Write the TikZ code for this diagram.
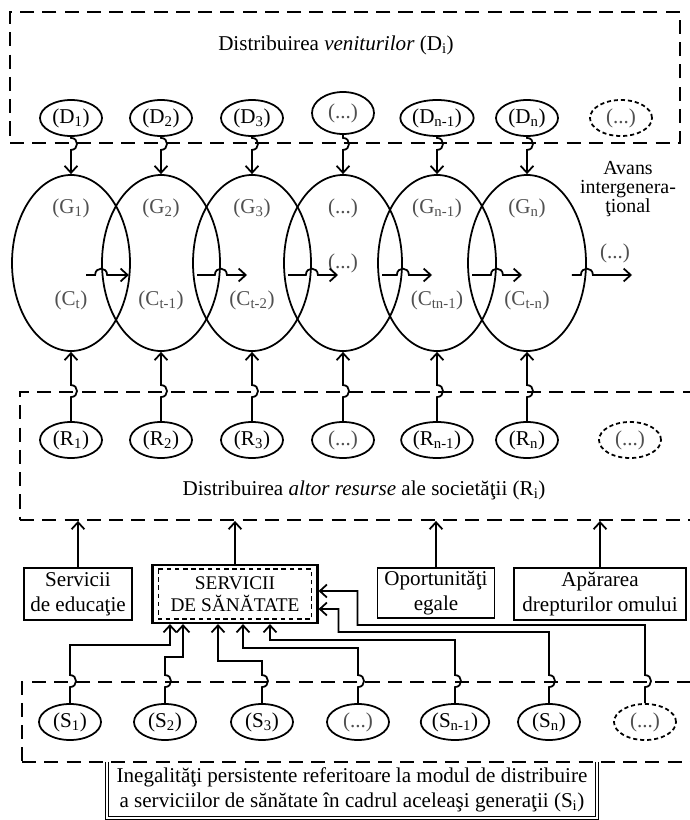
\documentclass[tikz,border=0pt]{standalone}
\usepackage{fontspec}
\setmainfont{Liberation Serif}
\usepackage{tikz}
\usetikzlibrary{positioning, arrows.meta, shapes.geometric, calc, fit}
\usepackage{xcolor}
\definecolor{labelgray}{RGB}{80, 80, 80}

\begin{document}
\begin{tikzpicture}[x=0.03cm, y=-0.03cm,
    txt/.style={font=\fontsize{18}{21}\selectfont, align=center},
    dbox/.style={draw, line width=1.6pt, dash pattern=on 12pt off 7pt, inner sep=0pt},
    cell/.style={ellipse, draw, line width=1.5pt, minimum width=1.86cm, minimum height=1.08cm, inner sep=1pt, txt},
    celldash/.style={cell, dash pattern=on 3.5pt off 2.5pt},
    gen/.style={ellipse, draw, line width=1.5pt, minimum width=3.54cm, minimum height=5.28cm},
    lbl/.style={txt, text=labelgray},
    box/.style={draw, line width=1.5pt, txt, inner sep=2pt},
    conn/.style={line width=1.5pt, -{Straight Barb[length=6pt, width=11pt]}}
]
    \useasboundingbox (0,0) rectangle (689,820);

    % Dashed frames
    \node[dbox, fit={(10,12) (680,143)}] (dframe) {};
    \node[dbox, fit={(20,392) (695,520)}] (rframe) {};
    \node[dbox, fit={(22,682) (695,762)}] (sframe) {};

    % Income distribution
    \node[txt] (dtitle) at (336,45) {Distribuirea \textit{veniturilor} (D\textsubscript{i})};
    \foreach \i/\x/\t in {1/71/{(D\textsubscript{1})}, 2/161/{(D\textsubscript{2})}, 3/252/{(D\textsubscript{3})}, 5/437/{(D\textsubscript{n-1})}, 6/527/{(D\textsubscript{n})}}
        \node[cell] (d\i) at (\x,118) {\t};
    \node[cell, minimum height=1.26cm, text=labelgray] (d4) at (343,113) {(...)};
    \node[celldash, text=labelgray] (d7) at (621,118) {(...)};

    % Generations
    \foreach \i/\x in {1/71, 2/161, 3/252, 4/343, 5/437, 6/527}
        \node[gen] (g\i) at (\x,263) {};
    \foreach \i/\g/\c/\dy in {1/{(G\textsubscript{1})}/{(C\textsubscript{t})}/37, 2/{(G\textsubscript{2})}/{(C\textsubscript{t-1})}/37, 3/{(G\textsubscript{3})}/{(C\textsubscript{t-2})}/37, 4/{(...)}/{(...)}/0, 5/{(G\textsubscript{n-1})}/{(C\textsubscript{tn-1})}/37, 6/{(G\textsubscript{n})}/{(C\textsubscript{t-n})}/37} {
        \node[lbl] (gl\i) at ($(g\i)+(0,-55)$) {\g};
        \node[lbl] (cl\i) at ($(g\i)+(0,\dy)$) {\c};
    }
    \node[lbl] (gmore) at (615,253) {(...)};
    \node[txt, font=\fontsize{17}{16.5}\selectfont] (avans) at (628,189) {Avans\\intergenera-\\ţional};

    % Transfers between generations
    \draw[conn] ($(g1)+(15,12)$) -- ($(g2.west)+(-6,12)$)
        .. controls +(0,-8.5) and +(0,-8.5) .. ($(g2.west)+(6,12)$) -- ($(g1.east)+(-2,12)$);
    \foreach \k [evaluate=\k as \n using int(\k+1)] in {2,...,5}
        \draw[conn] ($(g\n.west)+(5,12)$) -- ($(g\k.east)+(-6,12)$)
            .. controls +(0,-8.5) and +(0,-8.5) .. ($(g\k.east)+(6,12)$) -- ($(g\n)+(-5,12)$);
    \coordinate (gend) at (632,275);
    \draw[conn] ($(g6.east)+(-15,12)$) -- ($(g6.east)+(-6,12)$)
        .. controls +(0,-8.5) and +(0,-8.5) .. ($(g6.east)+(6,12)$) -- (gend);

    % Income into generations
    \foreach \i in {1,...,6}
        \draw[conn] (d\i.south) -- ($(d\i.south |- dframe.south)+(0,-6)$)
            .. controls +(8,0) and +(8,0) .. ($(d\i.south |- dframe.south)+(0,6)$) -- (g\i.north);

    % Other resources
    \foreach \i/\x/\t in {1/71/{(R\textsubscript{1})}, 2/161/{(R\textsubscript{2})}, 3/252/{(R\textsubscript{3})}, 5/437/{(R\textsubscript{n-1})}, 6/527/{(R\textsubscript{n})}}
        \node[cell] (r\i) at (\x,440) {\t};
    \node[cell, text=labelgray] (r4) at (343,440) {(...)};
    \node[celldash, text=labelgray] (r7) at (630,440) {(...)};
    \node[txt] (rtitle) at (364,490) {Distribuirea \textit{altor resurse} ale societăţii (R\textsubscript{i})};
    \foreach \i in {1,...,6}
        \draw[conn] (r\i.north) -- ($(r\i.north |- rframe.north)+(0,6)$)
            .. controls +(8,0) and +(8,0) .. ($(r\i.north |- rframe.north)+(0,-6)$) -- (g\i.south);

    % Services
    \node[box, minimum width=3.24cm, minimum height=1.56cm] (edu) at (78,594) {Servicii\\de educaţie};
    \node[box, line width=1.8pt, minimum width=4.95cm, minimum height=1.74cm, font=\fontsize{16.5}{19}\selectfont] (serv) at (235,594) {SERVICII\\DE SĂNĂTATE};
    \draw[line width=1.3pt, dash pattern=on 4pt off 3pt] ($(serv.north west)+(7,5)$) rectangle ($(serv.south east)+(-7,-5)$);
    \node[box, minimum width=3.51cm, minimum height=1.5cm] (opo) at (436,593) {Oportunităţi\\egale};
    \node[box, minimum width=5.16cm, minimum height=1.56cm] (drept) at (600,594) {Apărarea\\drepturilor omului};
    \foreach \b in {edu, serv, opo, drept}
        \draw[conn] (\b.north) -- (\b.north |- rframe.south);

    % Health inequalities
    \foreach \i/\x/\t in {1/70/{(S\textsubscript{1})}, 2/165/{(S\textsubscript{2})}, 3/262/{(S\textsubscript{3})}, 5/455/{(S\textsubscript{n-1})}, 6/549/{(S\textsubscript{n})}}
        \node[cell] (s\i) at (\x,722) {\t};
    \node[cell, text=labelgray] (s4) at (358,722) {(...)};
    \node[celldash, text=labelgray] (s7) at (645,722) {(...)};

    \foreach \i/\y/\dx in {1/645/-65, 2/657/-52, 3/661/-17, 4/648/8, 5/640/35}
        \draw[conn] (s\i.north) -- ($(s\i.north |- sframe.north)+(0,6)$)
            .. controls +(8,0) and +(8,0) .. ($(s\i.north |- sframe.north)+(0,-6)$)
            -- (s\i.north |- 0,\y) -| ($(serv.south)+(\dx,0)$);
    \draw[conn] (s6.north) -- ($(s6.north |- sframe.north)+(0,6)$)
        .. controls +(8,0) and +(8,0) .. ($(s6.north |- sframe.north)+(0,-6)$)
        -- (s6.north |- 0,632) -| ($(serv.east)+(20,15)$) -- ($(serv.east)+(0,15)$);
    \draw[conn] (s7.north) -- ($(s7.north |- sframe.north)+(0,6)$)
        .. controls +(8,0) and +(8,0) .. ($(s7.north |- sframe.north)+(0,-6)$)
        -- (s7.north |- 0,625) -| ($(serv.east)+(39,-3)$) -- ($(serv.east)+(0,-3)$);

    % Caption box
    \node[txt, minimum width=14.7cm, minimum height=1.68cm, inner sep=0pt] (ineg) at (352,790) {Inegalităţi persistente referitoare la modul de distribuire\\a serviciilor de sănătate în cadrul aceleaşi generaţii (S\textsubscript{i})};
    \draw[line width=0.8pt, double, double distance=1.6pt] (ineg.north west) -- (ineg.south west) -- (ineg.south east) -- (ineg.north east);
\end{tikzpicture}
\end{document}
